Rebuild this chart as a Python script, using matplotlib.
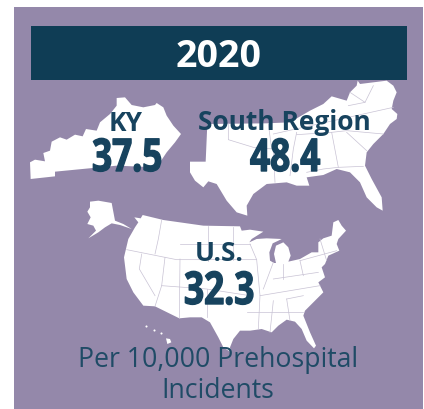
import matplotlib
matplotlib.use("Agg")
import matplotlib.pyplot as plt
from matplotlib.patches import Polygon, Rectangle
from matplotlib.patheffects import AbstractPathEffect
from matplotlib.transforms import Affine2D

year = "2020"
regions = ["KY", "South Region", "U.S."]
rates = [37.5, 48.4, 32.3]
footer_lines = ["Per 10,000 Prehospital", "Incidents"]

panel_color = "#9488aa"
header_color = "#0f3d55"
text_color = "#17435e"
border_color = "#c8c2d4"

# map outlines (x, y in 3x zoom pixels of each crop)
ky_outline = [(90, 490), (105, 482), (135, 487), (130, 462), (150, 455), (155, 428), (180, 415),
              (200, 422), (225, 407), (248, 412), (258, 390), (290, 395), (300, 370), (330, 345),
              (350, 320), (350, 297), (375, 295), (395, 318), (430, 325), (465, 318), (470, 312),
              (490, 325), (500, 350), (520, 380), (543, 405), (525, 430), (500, 460), (480, 490),
              (470, 505), (350, 500), (165, 518), (165, 532), (92, 540)]

south_outline = [(0, 278), (47, 278), (52, 165), (230, 163), (300, 160), (360, 125), (400, 105),
                 (425, 82), (470, 95), (480, 70), (500, 50), (503, 35), (510, 45), (590, 35),
                 (610, 50), (620, 70), (610, 95), (605, 120), (622, 135), (620, 150), (600, 165),
                 (580, 195), (550, 225), (530, 250), (525, 290), (545, 330), (575, 385), (578, 425),
                 (560, 415), (530, 385), (510, 340), (480, 310), (440, 300), (400, 318), (350, 325),
                 (358, 350), (320, 350), (290, 340), (230, 345), (190, 375), (170, 410), (172, 440),
                 (140, 430), (110, 395), (80, 345), (55, 337), (40, 355), (15, 335), (0, 310)]

south_borders = [[(115, 165), (115, 212), (190, 235), (250, 240), (255, 340)],
                 [(235, 165), (245, 240)],
                 [(320, 190), (310, 240), (300, 320)],
                 [(250, 195), (610, 115)],
                 [(425, 190), (445, 295), (520, 292)],
                 [(470, 190), (530, 245)],
                 [(320, 197), (425, 190), (470, 185), (580, 195)],
                 [(475, 110), (525, 100), (550, 50)],
                 [(525, 100), (480, 70)],
                 [(445, 295), (400, 300), (350, 310)]]

us_outline = [(218, 78), (280, 93), (400, 110), (510, 112), (515, 125), (540, 122), (580, 128),
              (545, 150), (538, 160), (560, 150), (590, 148), (635, 150), (625, 155), (608, 163),
              (598, 190), (600, 215), (612, 222), (618, 222), (612, 195), (618, 170), (640, 160),
              (655, 175), (662, 200), (655, 218), (690, 210), (725, 190), (745, 190), (745, 160),
              (760, 148), (785, 140), (790, 100), (805, 93), (815, 110), (828, 125), (805, 150),
              (800, 165), (808, 185), (775, 200), (765, 225), (755, 235), (765, 265), (745, 280),
              (760, 310), (735, 335), (705, 365), (700, 380), (720, 430), (738, 470), (732, 478),
              (710, 455), (695, 420), (675, 398), (650, 392), (625, 410), (605, 430), (575, 420),
              (540, 425), (510, 425), (490, 450), (480, 475), (483, 490), (460, 475), (445, 445),
              (420, 400), (395, 385), (360, 385), (328, 388), (255, 352), (220, 350), (190, 310),
              (170, 270), (162, 205), (175, 150), (195, 115), (205, 100), (193, 85), (212, 88)]

alaska_outline = [(60, 38), (85, 35), (125, 42), (135, 95), (160, 105), (185, 120), (150, 108),
                  (125, 103), (105, 115), (85, 130), (55, 148), (78, 125), (70, 110), (52, 105),
                  (62, 85), (52, 68), (60, 55)]

hawaii_outline = [(288, 448), (300, 450), (304, 460), (292, 465)]

us_borders = [[(275, 93), (265, 150), (255, 195)],
              [(170, 182), (320, 212), (560, 212)],
              [(215, 195), (208, 240), (255, 320)],
              [(285, 205), (275, 290), (255, 352)],
              [(275, 290), (410, 300), (540, 320)],
              [(330, 210), (328, 388)],
              [(415, 110), (415, 215)],
              [(490, 115), (490, 212)],
              [(330, 165), (540, 165)],
              [(540, 165), (560, 212), (570, 320), (565, 420)],
              [(410, 300), (410, 385)],
              [(530, 370), (700, 370)],
              [(570, 320), (750, 290)],
              [(580, 300), (610, 220)],
              [(640, 225), (640, 270)],
              [(610, 270), (745, 250)],
              [(690, 215), (700, 260)],
              [(610, 335), (600, 430)],
              [(650, 330), (660, 395)],
              [(700, 320), (650, 330)],
              [(750, 150), (770, 215)],
              [(690, 215), (800, 185)]]

ky_crop = (0, 0)
south_crop = (190, 70)
us_crop = (70, 190)


class Narrow(AbstractPathEffect):
    # no condensed font is installed, so squeeze the glyphs sideways and thicken them
    def __init__(self, factor, stroke):
        super().__init__()
        self.factor = factor
        self.stroke = stroke

    def draw_path(self, renderer, gc, tpath, affine, rgbFace=None):
        gc.set_foreground(rgbFace)
        gc.set_linewidth(self.stroke)
        renderer.draw_path(gc, tpath, Affine2D().scale(self.factor, 1) + affine, rgbFace)


def to_px(points, crop):
    return [(crop[0] + x / 3, crop[1] + y / 3) for x, y in points]


fig, ax = plt.subplots(figsize=(4.24, 4.10), dpi=100)
ax.set_position([0, 0, 1, 1])
ax.set_xlim(0, 424)
ax.set_ylim(410, 0)
ax.axis("off")

ax.add_patch(Rectangle((14, 8), 409, 402, color=panel_color, lw=0))
ax.add_patch(Rectangle((31, 27), 376, 54, color=header_color, lw=0))

for outline, crop in [(ky_outline, ky_crop), (south_outline, south_crop), (us_outline, us_crop),
                      (alaska_outline, us_crop), (hawaii_outline, us_crop)]:
    ax.add_patch(Polygon(to_px(outline, crop), closed=True, facecolor="white", edgecolor="none"))

for lines, crop in [(south_borders, south_crop), (us_borders, us_crop)]:
    for line in lines:
        xs, ys = zip(*to_px(line, crop))
        ax.plot(xs, ys, color=border_color, lw=0.5)

# Hawaii's small islands
ax.plot([146, 154, 161], [327, 331, 334], "o", color="white", ms=1.5, mew=0)

ax.text(218.5, 67, year, color="white", fontsize=27, fontweight="bold", family="Open Sans",
        ha="center", va="baseline")

label_pos = [(125.5, 131), (284, 130), (219, 261)]
value_pos = [(92, 172), (250, 172), (184, 305)]
for name, rate, lp, vp in zip(regions, rates, label_pos, value_pos):
    ax.text(lp[0], lp[1], name, color=text_color, fontsize=19, fontweight="bold",
            family="Open Sans", ha="center", va="baseline")
    ax.text(vp[0], vp[1], f"{rate}", color=text_color, fontsize=32.5, fontweight="bold",
            family="Open Sans", ha="left", va="baseline", path_effects=[Narrow(0.78, 1.0)])

for line, y in zip(footer_lines, [367, 398]):
    ax.text(218, y, line, color="#1f4b66", fontsize=19.2, family="Open Sans", ha="center",
            va="baseline")

fig.savefig("out.png", dpi=100, facecolor="white")
